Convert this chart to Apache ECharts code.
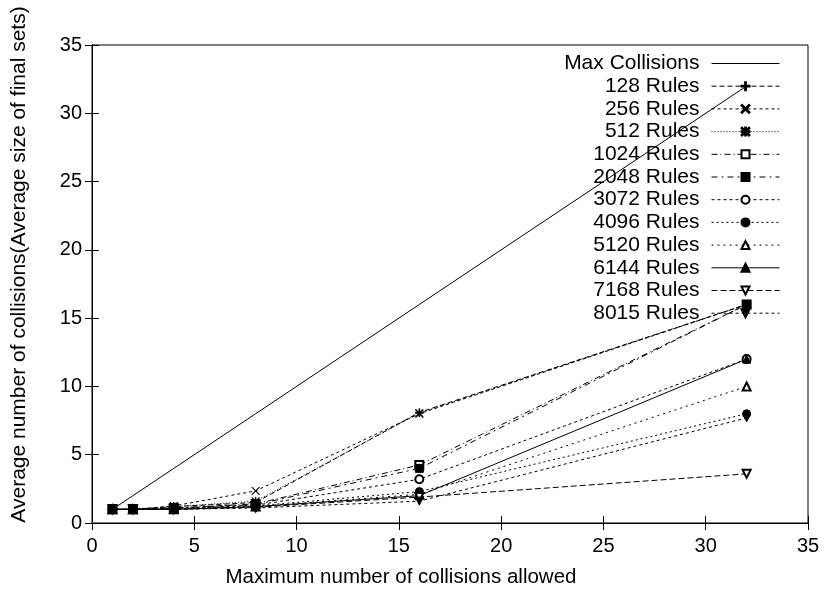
<!DOCTYPE html>
<html>
<head>
<meta charset="utf-8">
<script src="https://cdn.jsdelivr.net/npm/echarts@6/dist/echarts.min.js"></script>
<style>
  html, body { margin: 0; padding: 0; background: #fff; }
  #chart { width: 835px; height: 593px; }
</style>
</head>
<body>
<div id="chart"></div>
<script>
// x positions: maximum number of collisions allowed
const xValues = [1, 2, 4, 8, 16, 32];

// y values per series
const maxCollisions = [1, 2, 4, 8, 16, 32];
const rules128 = [1, 1, 1.2, 1.5, 8.1, 16];
const rules256 = [1, 1, 1.25, 2.35, 8.0, 16];
const rules512 = [1, 1, 1.2, 1.6, 8.05, 16];
const rules1024 = [1, 1, 1.1, 1.4, 4.25, 16];
const rules2048 = [1, 1, 1.1, 1.35, 4.0, 16];
const rules3072 = [1, 1, 1.05, 1.3, 3.2, 12];
const rules4096 = [1, 1, 1.05, 1.25, 2.3, 8];
const rules5120 = [1, 1, 1.0, 1.2, 2.1, 10];
const rules6144 = [1, 1, 1.0, 1.2, 2.0, 12];
const rules7168 = [1, 1, 1.0, 1.15, 1.9, 3.6];
const rules8015 = [1, 1, 1.0, 1.1, 1.6, 7.7];

const axisTicks = [0, 5, 10, 15, 20, 25, 30, 35];

const FONT = "Liberation Sans";

// marker shapes
const PLUS = "path://M4.5,0H5.5V4.5H10V5.5H5.5V10H4.5V5.5H0V4.5H4.5Z";
const CROSS = "path://M0.7,0L10,9.3L9.3,10L0,0.7Z M9.3,0L10,0.7L0.7,10L0,9.3Z";
const STAR = "path://M0,4.5H10V5.5H0Z M4.5,0H5.5V10H4.5Z M0.7,0L10,9.3L9.3,10L0,0.7Z M9.3,0L10,0.7L0.7,10L0,9.3Z";

const toPoints = (ys) => xValues.map((x, i) => [x, ys[i]]);

const thinMark = { color: "#000", borderColor: "#000", borderWidth: 0.4 };

const makeSeries = (name, ys, symbol, dash, opts) => Object.assign({
  name: name,
  type: "line",
  data: toPoints(ys),
  symbol: symbol,
  symbolSize: 8,
  showAllSymbol: true,
  lineStyle: { color: "#000", width: 1, type: dash },
  itemStyle: { color: "#000", borderColor: "#000", borderWidth: 1 },
  emphasis: { disabled: true },
  z: 3,
}, opts || {});

const series = [
  makeSeries("Max Collisions", maxCollisions, "none", "solid"),
  makeSeries("128 Rules", rules128, PLUS, [5, 3], { itemStyle: thinMark }),
  makeSeries("256 Rules", rules256, CROSS, [3, 3], { itemStyle: thinMark }),
  makeSeries("512 Rules", rules512, STAR, [1, 2], { itemStyle: thinMark }),
  makeSeries("1024 Rules", rules1024, "emptyRect", [6, 3, 1, 3]),
  makeSeries("2048 Rules", rules2048, "rect", [6, 4, 2, 4]),
  makeSeries("3072 Rules", rules3072, "emptyCircle", [3, 3]),
  makeSeries("4096 Rules", rules4096, "circle", [2, 3]),
  makeSeries("5120 Rules", rules5120, "emptyTriangle", [2, 4]),
  makeSeries("6144 Rules", rules6144, "triangle", "solid"),
  makeSeries("7168 Rules", rules7168, "emptyTriangle", [6, 3], { symbolRotate: 180 }),
  makeSeries("8015 Rules", rules8015, "triangle", [3, 3], { symbolRotate: 180 }),
];

const baseAxis = {
  type: "value",
  min: axisTicks[0],
  max: axisTicks[axisTicks.length - 1],
  interval: 5,
  axisLine: { show: true, lineStyle: { color: "#000", width: 1 } },
  axisTick: { show: true, inside: true, length: 7, lineStyle: { color: "#000" } },
  splitLine: { show: false },
};

// legend entries; the plain line has no marker
const legendData = series.map((s) =>
  s.symbol === "none" ? { name: s.name, itemStyle: { opacity: 0 } } : { name: s.name }
);

const chart = echarts.init(document.getElementById("chart"), null, { renderer: "canvas" });

const option = {
  animation: false,
  backgroundColor: "#fff",
  grid: {
    left: 92,
    right: 27,
    top: 45,
    bottom: 69,
    show: true,
    borderColor: "#000",
    borderWidth: 1,
  },
  legend: {
    orient: "vertical",
    right: 50,
    top: 48,
    align: "right",
    itemWidth: 68,
    itemHeight: 10,
    itemGap: 1.7,
    selectedMode: false,
    lineStyle: { width: 1 },
    textStyle: { fontFamily: FONT, fontSize: 21, lineHeight: 21, color: "#000", padding: [0, 7, 0, 0] },
    data: legendData,
  },
  xAxis: [
    Object.assign({}, baseAxis, {
      position: "bottom",
      name: "Maximum number of collisions allowed",
      nameLocation: "middle",
      nameGap: 44,
      nameTextStyle: { fontFamily: FONT, fontSize: 20.5, color: "#000", padding: [0, 98, 0, 0] },
      axisLabel: { fontFamily: FONT, fontSize: 20, color: "#000", margin: 13 },
    }),
    Object.assign({}, baseAxis, {
      position: "top",
      axisLabel: { show: false },
    }),
  ],
  yAxis: [
    Object.assign({}, baseAxis, {
      position: "left",
      name: "Average number of collisions(Average size of final sets)",
      nameLocation: "middle",
      nameGap: 62,
      nameTextStyle: { fontFamily: FONT, fontSize: 21, color: "#000", padding: [0, 0, 0, 39] },
      axisLabel: { fontFamily: FONT, fontSize: 20, color: "#000", margin: 10 },
    }),
    Object.assign({}, baseAxis, {
      position: "right",
      axisLabel: { show: false },
    }),
  ],
  series: series,
};

chart.setOption(option);
</script>
</body>
</html>
